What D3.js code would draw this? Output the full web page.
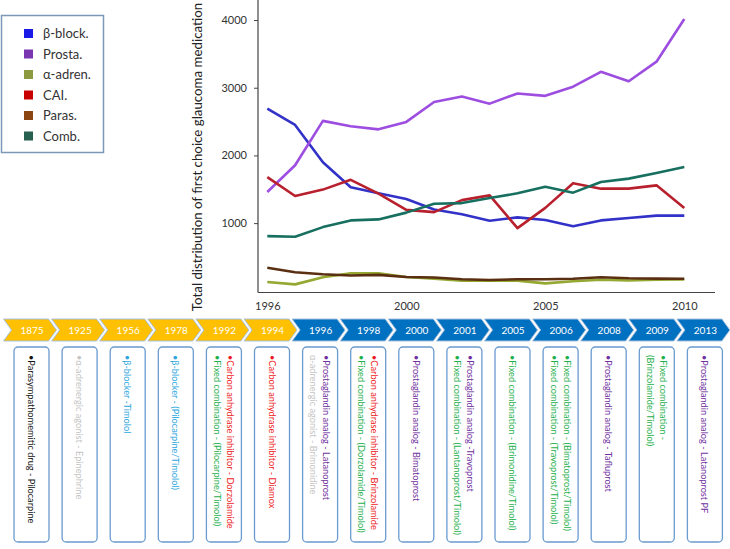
<!DOCTYPE html>
<html><head><meta charset="utf-8">
<script src="https://cdn.jsdelivr.net/npm/d3@7"></script>
<style>
html,body{margin:0;padding:0;background:#fff;}
svg{display:block;font-family:Lato,"Open Sans",sans-serif;}
</style></head>
<body><svg id="c" width="730" height="549"></svg>
<script>
// ---------- data ----------
const seriesNames = ["β-block.","Prosta.","α-adren.","CAI.","Paras.","Comb."];
const betaBlock = [2690,2450,1900,1530,1440,1355,1200,1130,1035,1085,1045,955,1040,1075,1110,1110];
const prosta    = [1460,1855,2510,2430,2385,2495,2790,2870,2765,2915,2880,3015,3235,3095,3385,4015];
const alphaAdren= [130,95,201,260,260,205,180,150,150,150,110,142,163,152,163,168];
const cai       = [1680,1400,1495,1640,1435,1195,1163,1340,1410,926,1225,1590,1509,1509,1558,1222];
const paras     = [340,275,245,226,236,205,197,170,160,170,170,178,201,185,180,178];
const comb      = [808,799,941,1040,1055,1155,1287,1296,1370,1440,1538,1450,1607,1657,1740,1829];
const xTickIndex = [0,5,10,15];
const xTickLabels = ["1996","2000","2005","2010"];
const yTicks = [1000,2000,3000,4000];
const yTitle = "Total distribution of first choice glaucoma medication";

const timelineYears = ["1875","1925","1956","1978","1992","1994","1996","1998","2000","2001","2005","2006","2008","2009","2013"];
const timelineEra = ["old","old","old","old","old","old","new","new","new","new","new","new","new","new","new"];
// each entry: list of [text, group]
const drugNotes = [
  [["•Parasympathomemitic drug - Pilocarpine","para"]],
  [["•α-adrenergic agonist - Epinephrine","alpha"]],
  [["•β-blocker -Timolol","beta"]],
  [["•β-blocker - (Pilocarpine/Timolol)","beta"]],
  [["•Carbon anhydrase inhibitor - Dorzolamide","cai"],["•Fixed combination - (Pilocarpine/Timolol)","comb"]],
  [["•Carbon anhydrase inhibitor - Diamox","cai"]],
  [["•Prostaglandin analog - Latanoprost","pg"],["α-adrenergic agonist - Brimonidine","alpha"]],
  [["•Carbon anhydrase inhibitor - Brinzolamide","cai"],["•Fixed combination - (Dorzolamide/Timolol)","comb"]],
  [["•Prostaglandin analog - Bimatoprost","pg"]],
  [["•Prostaglandin analog -Travoprost","pg"],["•Fixed combination - (Lantanoprost/Timolol)","comb"]],
  [["•Fixed combination - (Brimonidine/Timolol)","comb"]],
  [["•Fixed combination - (Bimatoprost/Timolol)","comb"],["•Fixed combination - (Travoprost/Timolol)","comb"]],
  [["•Prostaglandin analog - Tafluprost","pg"]],
  [["•Fixed combination -","comb"],["(Brinzolamide/Timolol)","comb"]],
  [["•Prostaglandin analog - Latanoprost PF","pg"]]
];

// ---------- styles ----------
const lineColors = ["#3232c8","#9d4ee0","#94a832","#b8202e","#5a2e10","#17705f"];
const legendColors = ["#1a1ae6","#7a35b0","#8e9a40","#c80000","#8b4513","#27604f"];
const noteColors = {para:"#111111",alpha:"#c4c4c4",beta:"#2aa6e0",cai:"#ee1c25",comb:"#1db04b",pg:"#7030a0"};
const eraColors = {old:"#ffc000",new:"#0070c0"};

const svg = d3.select("#c");
const allSeries = [betaBlock,prosta,alphaAdren,cai,paras,comb];

// ---------- chart ----------
const x = d3.scaleLinear().domain([0,15]).range([267.3,684.3]);
const y = d3.scaleLinear().domain([-25,4296]).range([292.5,0]);

svg.append("line").attr("x1",258).attr("x2",258).attr("y1",0).attr("y2",292.5).attr("stroke","#444").attr("stroke-width",1.2);
svg.append("line").attr("x1",258).attr("x2",715).attr("y1",292.5).attr("y2",292.5).attr("stroke","#444").attr("stroke-width",1.2);

const yAxis = svg.append("g").attr("transform","translate(258,0)")
  .call(d3.axisLeft(y).tickValues(yTicks).tickSize(4).tickPadding(7).tickFormat(d3.format("d")));
yAxis.select(".domain").remove();
yAxis.selectAll("line").attr("stroke","#444");
yAxis.selectAll("text").attr("font-size",11).attr("fill","#333").attr("font-family","Lato");

const xAxis = svg.append("g").attr("transform","translate(0,292.5)")
  .call(d3.axisBottom(x).tickValues(xTickIndex).tickSize(0).tickPadding(10).tickFormat((d,i)=>xTickLabels[i]));
xAxis.select(".domain").remove();
xAxis.selectAll("text").attr("font-size",11).attr("fill","#333").attr("font-family","Lato");

svg.append("text").attr("transform","translate(202,157) rotate(-90)")
  .attr("text-anchor","middle").attr("font-size",13.3).attr("fill","#222").text(yTitle);

const line = d3.line().x((d,i)=>x(i)).y(d=>y(d));
allSeries.forEach((s,k)=>{
  svg.append("path").datum(s).attr("d",line).attr("fill","none")
    .attr("stroke",lineColors[k]).attr("stroke-width",2.6).attr("stroke-linejoin","round");
});

// ---------- legend ----------
svg.append("rect").attr("x",1.5).attr("y",15.5).attr("width",102).attr("height",137)
  .attr("fill","#fff").attr("stroke","#7c98b8").attr("stroke-width",1.5);
seriesNames.forEach((n,i)=>{
  const cy = 33.5 + i*20.5;
  svg.append("rect").attr("x",24).attr("y",cy-4.5).attr("width",9).attr("height",9).attr("fill",legendColors[i]);
  svg.append("text").attr("x",43).attr("y",cy+4.5).attr("font-size",13).attr("fill","#333").text(n);
});

// ---------- timeline ----------
const stride = 48.1, chevW = 45, chevD = 8, chevTop = 319, chevBot = 341;
timelineYears.forEach((yr,i)=>{
  const x0 = 3.5 + i*stride;
  const mid = (chevTop+chevBot)/2;
  svg.append("path")
    .attr("d",`M${x0},${chevTop}L${x0+chevW},${chevTop}L${x0+chevW+chevD},${mid}L${x0+chevW},${chevBot}L${x0},${chevBot}L${x0+chevD},${mid}Z`)
    .attr("fill",eraColors[timelineEra[i]]).attr("stroke","#a9c1de").attr("stroke-width",1);
  svg.append("text").attr("x",x0+chevD/2+chevW/2+2).attr("y",mid+3.5).attr("text-anchor","middle")
    .attr("font-size",10).attr("fill","#fff").text(yr);
});

// ---------- note boxes ----------
drugNotes.forEach((lines,i)=>{
  const cx = 31.5 + i*stride;
  svg.append("rect").attr("x",cx-17.5).attr("y",347).attr("width",35).attr("height",195).attr("rx",4)
    .attr("fill","#fff").attr("stroke","#6a9bd0").attr("stroke-width",1.3);
  const n = lines.length, lh = 13;
  lines.forEach((ln,j)=>{
    const tx = cx + (n-1)*lh/2 - j*lh;
    svg.append("text").attr("transform",`translate(${tx-3.5},355) rotate(90)`)
      .attr("font-size",9.2).attr("fill",noteColors[ln[1]]).text(ln[0]);
  });
});
</script></body></html>
